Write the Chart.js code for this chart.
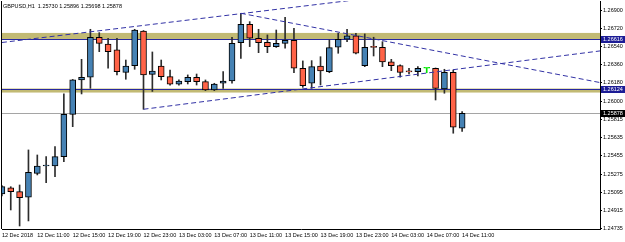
<!DOCTYPE html>
<html>
<head>
<meta charset="utf-8">
<title>GBPUSD,H1</title>
<script src="https://cdn.jsdelivr.net/npm/chart.js@4.4.1/dist/chart.umd.min.js"></script>
<style>
  html, body { margin: 0; padding: 0; background: #fff; }
  #wrap { width: 625px; height: 242px; }
</style>
</head>
<body>
<div id="wrap"><canvas id="chart" width="625" height="242"></canvas></div>
<script>
// H1 candles, 12 Dec 07:00 .. 14 Dec 11:00
const symbolTitle = 'GBPUSD,H1  1.25730 1.25896 1.25698 1.25878';
const timeLabels = ['12 Dec 2018', '12 Dec 11:00', '12 Dec 15:00', '12 Dec 19:00', '12 Dec 23:00',
  '13 Dec 03:00', '13 Dec 07:00', '13 Dec 11:00', '13 Dec 15:00', '13 Dec 19:00', '13 Dec 23:00',
  '14 Dec 03:00', '14 Dec 07:00', '14 Dec 11:00'];

const opens = [1.25077, 1.25139, 1.25100, 1.25044, 1.25282, 1.25355, 1.25355, 1.25447, 1.25868, 1.26209,
  1.26236, 1.26633, 1.26566, 1.26507, 1.26285, 1.26351, 1.26695, 1.26265, 1.26348, 1.26242,
  1.26166, 1.26192, 1.26236, 1.26192, 1.26110, 1.26176, 1.26199, 1.26579, 1.26762, 1.26623,
  1.26583, 1.26540, 1.26573, 1.26603, 1.26325, 1.26176, 1.26348, 1.26291, 1.26534, 1.26613,
  1.26646, 1.26351, 1.26534, 1.26534, 1.26388, 1.26351, 1.26291, 1.26291, 1.26325, 1.26325,
  1.26120, 1.26285, 1.25730];
const highs = [1.25161, 1.25149, 1.25166, 1.25514, 1.25464, 1.25447, 1.25547, 1.26070, 1.26214, 1.26414,
  1.26712, 1.26679, 1.26623, 1.26623, 1.26407, 1.26712, 1.26700, 1.26487, 1.26407, 1.26308,
  1.26209, 1.26259, 1.26268, 1.26209, 1.26176, 1.26291, 1.26633, 1.26871, 1.26788, 1.26712,
  1.26656, 1.26705, 1.26831, 1.26722, 1.26398, 1.26401, 1.26440, 1.26606, 1.26673, 1.26712,
  1.26673, 1.26666, 1.26633, 1.26589, 1.26414, 1.26358, 1.26325, 1.26341, 1.26325, 1.26328,
  1.26315, 1.26308, 1.25896];
const lows = [1.25057, 1.24918, 1.24759, 1.24809, 1.25266, 1.25189, 1.25249, 1.25398, 1.25745, 1.26070,
  1.26126, 1.26490, 1.26325, 1.26259, 1.26216, 1.26315, 1.25918, 1.26095, 1.26209, 1.26156,
  1.26156, 1.26169, 1.26159, 1.26103, 1.26103, 1.26126, 1.26176, 1.26424, 1.26540, 1.26480,
  1.26480, 1.26532, 1.26524, 1.26281, 1.26136, 1.26126, 1.26159, 1.26281, 1.26474, 1.26589,
  1.26467, 1.26341, 1.26447, 1.26341, 1.26301, 1.26236, 1.26268, 1.26249, 1.26281, 1.26010,
  1.26077, 1.25680, 1.25698];
const closes = [1.25149, 1.25100, 1.25040, 1.25292, 1.25355, 1.25356, 1.25447, 1.25868, 1.26209, 1.26236,
  1.26633, 1.26573, 1.26490, 1.26291, 1.26348, 1.26705, 1.26259, 1.26298, 1.26242, 1.26166,
  1.26199, 1.26236, 1.26192, 1.26110, 1.26169, 1.26199, 1.26573, 1.26762, 1.26623, 1.26579,
  1.26540, 1.26573, 1.26603, 1.26325, 1.26152, 1.26341, 1.26298, 1.26530, 1.26613, 1.26646,
  1.26474, 1.26534, 1.26533, 1.26388, 1.26351, 1.26285, 1.26290, 1.26325, 1.26325, 1.26126,
  1.26285, 1.25739, 1.25878];

const priceTicks = [1.26900, 1.26720, 1.26540, 1.26360, 1.26180, 1.26000, 1.25815,
  1.25635, 1.25455, 1.25275, 1.25095, 1.24915, 1.24735];

// zones and levels drawn on the chart
const supplyZone = [1.26616, 1.26676];
const demandZone = [1.26084, 1.26124];
const levelLines = [1.26616, 1.26124];
const bidPrice = 1.25878;

// trend lines, x = bar index
const trendUpper = [{ x: 0, y: 1.26581 }, { x: 45, y: 1.27058 }];
const trendDown = [{ x: 27, y: 1.26871 }, { x: 68, y: 1.26176 }];
const trendUpLower = [{ x: 16, y: 1.25918 }, { x: 68, y: 1.26502 }];

const BULL = 'rgb(70,130,180)';
const BEAR = 'rgb(255,99,71)';
const DOJI = 'rgb(0,230,0)';
const ZONE = 'rgb(194,186,116)';
const LEVEL = 'rgb(40,40,160)';
const TREND = 'rgb(50,50,165)';

const bodies = opens.map((o, i) => ({ x: i, y: [o, closes[i]] }));
const wicks = opens.map((o, i) => ({ x: i, y: [lows[i], highs[i]] }));
const bodyFill = opens.map((o, i) => closes[i] > o ? BULL : (closes[i] < o ? BEAR : DOJI));
const bodyEdge = opens.map((o, i) => closes[i] === o ? DOJI : '#000');
const wickColor = opens.map((o, i) => closes[i] === o ? DOJI : 'rgb(45,45,45)');

const mt4Overlay = {
  id: 'mt4Overlay',
  beforeDatasetsDraw(chart) {
    const { ctx, chartArea: a, scales: { y } } = chart;
    ctx.save();
    ctx.fillStyle = ZONE;
    [supplyZone, demandZone].forEach(z => {
      const top = y.getPixelForValue(z[1]);
      const bot = y.getPixelForValue(z[0]);
      ctx.fillRect(a.left, top, a.right - a.left, bot - top);
    });
    ctx.lineWidth = 1;
    ctx.strokeStyle = LEVEL;
    levelLines.forEach(v => {
      const py = Math.round(y.getPixelForValue(v)) + 0.5;
      ctx.beginPath();
      ctx.moveTo(a.left, py);
      ctx.lineTo(a.right, py);
      ctx.stroke();
    });
    ctx.strokeStyle = 'rgb(165,165,165)';
    const by = Math.round(y.getPixelForValue(bidPrice)) + 0.5;
    ctx.beginPath();
    ctx.moveTo(a.left, by);
    ctx.lineTo(a.right, by);
    ctx.stroke();
    ctx.restore();
  },
  afterDraw(chart) {
    const { ctx, chartArea: a, scales: { y } } = chart;
    ctx.save();
    // left frame line
    ctx.strokeStyle = '#000';
    ctx.lineWidth = 1;
    ctx.beginPath();
    ctx.moveTo(1.5, a.top);
    ctx.lineTo(1.5, a.bottom);
    ctx.stroke();

    ctx.font = '5.5px "Liberation Sans", Arial, sans-serif';
    ctx.textBaseline = 'middle';
    ctx.textAlign = 'left';
    ctx.fillStyle = '#000';
    ctx.fillText(symbolTitle, 3, 6);

    const boxes = [
      { v: levelLines[0], bg: 'rgb(28,28,150)' },
      { v: levelLines[1], bg: 'rgb(28,28,150)' },
      { v: bidPrice, bg: '#000' }
    ];
    boxes.forEach(b => {
      const py = y.getPixelForValue(b.v);
      ctx.fillStyle = b.bg;
      ctx.fillRect(a.right + 1, Math.round(py) - 3, 24, 7);
      ctx.fillStyle = '#fff';
      ctx.fillText(b.v.toFixed(5), a.right + 3, Math.round(py) + 0.5);
    });
    ctx.restore();
  }
};

Chart.defaults.font.family = '"Liberation Sans", Arial, sans-serif';
Chart.defaults.font.size = 5.5;
Chart.defaults.color = '#000';

new Chart(document.getElementById('chart'), {
  type: 'bar',
  data: {
    datasets: [
      {
        label: 'body',
        data: bodies,
        backgroundColor: bodyFill,
        borderColor: bodyEdge,
        borderWidth: 1,
        borderSkipped: false,
        barThickness: 6,
        minBarLength: 1,
        grouped: false,
        order: 1
      },
      {
        label: 'wick',
        data: wicks,
        backgroundColor: wickColor,
        borderWidth: 0,
        barThickness: 1,
        grouped: false,
        order: 2
      },
      {
        type: 'line', label: 'trend1', data: trendUpper,
        borderColor: TREND, borderWidth: 1, borderDash: [5, 3], pointRadius: 0, order: 0
      },
      {
        type: 'line', label: 'trend2', data: trendDown,
        borderColor: TREND, borderWidth: 1, borderDash: [5, 3], pointRadius: 0, order: 0
      },
      {
        type: 'line', label: 'trend3', data: trendUpLower,
        borderColor: TREND, borderWidth: 1, borderDash: [5, 3], pointRadius: 0, order: 0
      }
    ]
  },
  options: {
    responsive: false,
    animation: false,
    devicePixelRatio: 1,
    layout: { padding: { left: 2, top: 1, right: 0, bottom: 0 } },
    plugins: {
      legend: { display: false },
      tooltip: { enabled: false },
      title: { display: false }
    },
    scales: {
      x: {
        type: 'linear',
        min: 0.011,
        max: 67.58,
        offset: false,
        grid: { display: false, drawTicks: false, offset: false },
        border: { display: true, color: '#000', width: 1 },
        afterBuildTicks: s => { s.ticks = timeLabels.map((t, k) => ({ value: k * 4 })); },
        afterFit: s => { s.height = 13; s.paddingLeft = 0; s.paddingRight = 0; },
        ticks: {
          autoSkip: false,
          maxRotation: 0,
          align: 'start',
          padding: 3,
          color: '#000',
          callback: (v, idx) => timeLabels[idx]
        }
      },
      y: {
        position: 'right',
        min: 1.24729,
        max: 1.26993,
        grid: { drawOnChartArea: false, drawTicks: true, tickLength: 2, color: '#000' },
        border: { display: true, color: '#000', width: 1 },
        afterBuildTicks: s => { s.ticks = priceTicks.map(v => ({ value: v })); },
        afterFit: s => { s.width = 25; s.paddingTop = 0; s.paddingBottom = 0; },
        ticks: {
          autoSkip: false,
          padding: 1,
          color: '#000',
          callback: v => Number(v).toFixed(5)
        }
      }
    }
  },
  plugins: [mt4Overlay]
});
</script>
</body>
</html>
